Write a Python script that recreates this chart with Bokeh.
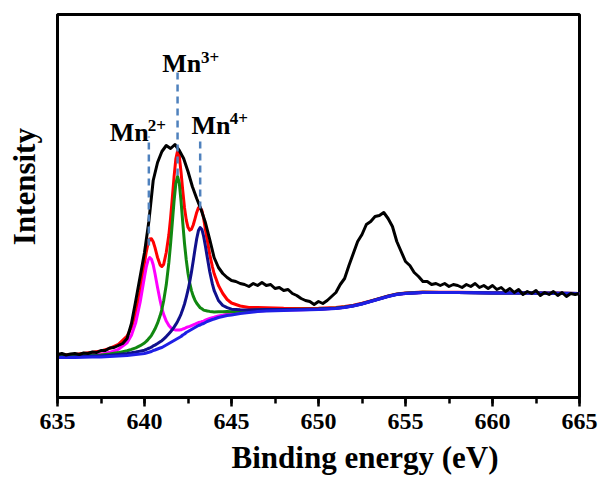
from bokeh.plotting import figure
from bokeh.models import Range1d, SingleIntervalTicker, FixedTicker, Label
from bokeh.embed import file_html
from bokeh.resources import INLINE

# ---------------- data (binding energy in eV, intensity in a.u.) ----------------
BE = [
    635.0, 635.25, 635.5, 635.75, 636.0, 636.25, 636.5, 636.75,
    637.0, 637.25, 637.5, 637.75, 638.0, 638.25, 638.5, 638.75,
    639.0, 639.25, 639.5, 639.75, 640.0, 640.25, 640.5, 640.75,
    641.0, 641.25, 641.5, 641.75, 642.0, 642.25, 642.5, 642.75,
    643.0, 643.25, 643.5, 643.75, 644.0, 644.25, 644.5, 644.75,
    645.0, 645.25, 645.5, 645.75, 646.0, 646.25, 646.5, 646.75,
    647.0, 647.25, 647.5, 647.75, 648.0, 648.25, 648.5, 648.75,
    649.0, 649.25, 649.5, 649.75, 650.0, 650.25, 650.5, 650.75,
    651.0, 651.25, 651.5, 651.75, 652.0, 652.25, 652.5, 652.75,
    653.0, 653.25, 653.5, 653.75, 654.0, 654.25, 654.5, 654.75,
    655.0, 655.25, 655.5, 655.75, 656.0, 656.25, 656.5, 656.75,
    657.0, 657.25, 657.5, 657.75, 658.0, 658.25, 658.5, 658.75,
    659.0, 659.25, 659.5, 659.75, 660.0, 660.25, 660.5, 660.75,
    661.0, 661.25, 661.5, 661.75, 662.0, 662.25, 662.5, 662.75,
    663.0, 663.25, 663.5, 663.75, 664.0, 664.25, 664.5, 664.75,
    665.0,
]
COUNTS = [
    43, 44, 42.5, 43.5, 44, 43, 44.5, 44,
    45.5, 45, 47, 47, 49.5, 50, 52, 54,
    59, 74, 97, 121, 145, 176, 217, 235,
    246, 252, 249, 253, 247, 239, 226, 211,
    199, 188, 175, 158, 140, 130, 124, 120,
    117, 116, 114, 113, 111, 114, 112, 115,
    112, 113, 109, 110, 107, 108, 104, 102,
    99, 97, 96, 93, 96, 94, 97, 101,
    105, 113, 119, 132, 144, 156, 163, 173,
    176, 181, 182, 185, 179, 171, 156, 146,
    136, 132, 125, 121, 116, 116, 113, 114,
    112, 114, 111, 113, 112, 110, 113, 111,
    114, 110, 112, 109, 112, 108, 110, 106,
    109, 105, 108, 103, 106, 104, 107, 102,
    105, 103, 106, 102, 105, 101, 104, 103,
    104,
]

FIT_BE = [
    635, 636, 637, 637.5, 638, 638.5, 639, 639.25,
    639.5, 639.75, 640, 640.1, 640.2, 640.3, 640.4, 640.5,
    640.6, 640.75, 640.9, 641, 641.1, 641.25, 641.4, 641.5,
    641.6, 641.7, 641.8, 641.9, 642, 642.1, 642.2, 642.3,
    642.4, 642.5, 642.6, 642.7, 642.8, 642.9, 643, 643.1,
    643.2, 643.3, 643.4, 643.5, 643.6, 643.75, 643.9, 644,
    644.25, 644.5, 644.75, 645, 645.5, 646, 646.5, 647,
    648, 649, 650, 651, 651.5, 652, 652.5, 653,
    653.5, 654, 654.5, 655, 655.5, 656, 657, 658,
    660, 662, 665,
]
BACKGROUND = [
    40, 40, 40.5, 40.5, 41, 41.5, 42, 42.5,
    43, 43.5, 44, 44.5, 45, 45.5, 46, 47,
    47.5, 48.5, 49.5, 50, 51, 52.5, 54, 55,
    56, 57, 58, 59, 60, 61, 62.5, 63.5,
    65, 66, 67, 68, 69, 70, 71, 72,
    72.5, 73.5, 74, 75, 76, 77, 78, 78.5,
    80, 81, 82, 82.5, 84, 85, 86, 86.5,
    87, 87.5, 88, 89, 90, 91.5, 93.5, 96,
    98.5, 101, 103, 104, 104.5, 105, 105, 105,
    104.5, 104.5, 104,
]
MN2_FIT = [
    40.8, 41.3, 42.6, 43.4, 45.2, 48.2, 54.7, 62.2,
    75.1, 95.3, 120.8, 130.3, 137.2, 140.0, 138.2, 132.8,
    124.3, 110.0, 96.8, 89.0, 83.1, 76.4, 71.9, 70.0,
    68.7, 67.9, 67.5, 67.4, 67.4, 67.7, 68.5, 69.0,
    70.0, 70.6, 71.2, 71.9, 72.6, 73.3, 74.1, 74.9,
    75.2, 76.0, 76.4, 77.3, 78.1, 79.0, 79.8, 80.2,
    81.5, 82.3, 83.2, 83.6, 84.9, 85.7, 86.6, 87.0,
    87.4, 87.8, 88.3, 89.2, 90.2, 91.7, 93.7, 96.2,
    98.6, 101.1, 103.1, 104.1, 104.6, 105.1, 105.1, 105.1,
    104.6, 104.5, 104.0,
]
MN3_FIT = [
    40.9, 41.2, 42.2, 42.6, 43.6, 44.9, 46.7, 48.1,
    49.7, 51.8, 54.5, 56.1, 57.9, 59.9, 62.2, 65.3,
    68.4, 74.3, 81.9, 88.2, 96.5, 112.7, 135.0, 153.8,
    175.1, 196.7, 213.8, 221.0, 214.4, 196.3, 174.7, 154.0,
    137.5, 124.3, 114.4, 106.9, 101.4, 97.3, 94.2, 92.0,
    89.8, 88.7, 87.4, 86.9, 86.6, 86.1, 85.8, 85.6,
    85.7, 85.7, 85.9, 85.8, 86.5, 86.9, 87.5, 87.8,
    87.9, 88.2, 88.5, 89.4, 90.4, 91.8, 93.8, 96.3,
    98.7, 101.2, 103.2, 104.2, 104.7, 105.2, 105.1, 105.1,
    104.6, 104.6, 104.1,
]
MN4_FIT = [
    40.5, 40.7, 41.4, 41.6, 42.3, 43.1, 44.0, 44.7,
    45.5, 46.4, 47.3, 48.0, 48.8, 49.5, 50.3, 51.6,
    52.4, 54.0, 55.7, 56.8, 58.4, 60.9, 63.8, 65.8,
    68.0, 70.4, 73.1, 76.1, 79.5, 83.4, 88.3, 93.5,
    100.1, 107.3, 115.8, 125.5, 136.5, 148.0, 158.8, 166.9,
    170.0, 168.1, 161.0, 151.4, 140.9, 125.8, 113.6, 107.1,
    97.0, 92.0, 89.8, 88.3, 87.7, 87.5, 87.8, 87.9,
    87.9, 88.1, 88.4, 89.3, 90.3, 91.8, 93.7, 96.2,
    98.7, 101.2, 103.2, 104.2, 104.6, 105.1, 105.1, 105.1,
    104.6, 104.6, 104.0,
]
ENVELOPE = [
    42.2, 43.1, 45.2, 46.5, 49.1, 53.2, 61.3, 70.0,
    84.3, 106.5, 134.6, 145.4, 153.9, 158.4, 158.7, 155.7,
    150.1, 140.0, 132.5, 131.0, 133.0, 145.0, 162.7, 179.6,
    199.8, 221.0, 238.4, 246.5, 241.3, 225.4, 206.5, 189.5,
    177.6, 170.2, 167.4, 168.3, 172.5, 178.6, 185.1, 189.8,
    190.0, 187.0, 179.0, 168.0, 158.0, 143.0, 131.0, 124.0,
    112.0, 104.0, 98.0, 94.5, 91.5, 90.1, 90.0, 89.7,
    89.2, 89.1, 89.2, 89.9, 90.9, 92.3, 94.2, 96.6,
    99.1, 101.5, 103.5, 104.5, 104.9, 105.4, 105.3, 105.3,
    104.7, 104.7, 104.1,
]

PEAK_BE = [640.25, 641.9, 643.2]
PEAK_LABELS = ["2+", "3+", "4+"]
X_TITLE = "Binding energy (eV)"
Y_TITLE = "Intensity"

# ---------------- layout / style ----------------
FONT = "Liberation Serif"
DASH_TOP = [261, 327, 257]
DASH_BOTTOM = [152, 222, 189]
MN_POS = [(638.0, 265.3), (641.02, 333.7), (642.7, 272.0)]
SUP_POS = [(640.18, 272.0), (643.25, 340.3), (644.9, 278.7)]
NBSP = "\u00a0"

p = figure(width=600, height=481,
           x_range=Range1d(635, 665), y_range=Range1d(0, 383),
           output_backend="svg", toolbar_location=None,
           min_border_left=57, min_border_right=21,
           min_border_top=14, min_border_bottom=84)
p.background_fill_color = "white"
p.border_fill_color = "white"
p.xgrid.visible = False
p.ygrid.visible = False
p.outline_line_color = "black"
p.outline_line_width = 3
p.outline_line_alpha = 1.0

ax = p.xaxis[0]
ax.ticker = SingleIntervalTicker(interval=5, num_minor_ticks=2)
ax.axis_line_width = 3
ax.major_tick_line_width = 2.5
ax.minor_tick_line_width = 2.5
ax.major_tick_in = 0
ax.major_tick_out = 9
ax.minor_tick_in = 0
ax.minor_tick_out = 6
ax.major_label_standoff = 7
ax.major_label_text_font = FONT
ax.major_label_text_font_style = "bold"
ax.major_label_text_font_size = "24px"
ax.major_label_text_color = "black"
ax.axis_label = NBSP * 12 + X_TITLE
ax.axis_label_standoff = 8
ax.axis_label_text_font = FONT
ax.axis_label_text_font_style = "bold"
ax.axis_label_text_font_size = "31px"
ax.axis_label_text_color = "black"

ay = p.yaxis[0]
ay.ticker = FixedTicker(ticks=[])
ay.axis_line_width = 3
ay.major_tick_in = 0
ay.major_tick_out = 0
ay.minor_tick_in = 0
ay.minor_tick_out = 0
ay.major_label_standoff = 0
ay.axis_label = NBSP * 5 + Y_TITLE
ay.axis_label_standoff = 16
ay.axis_label_text_font = FONT
ay.axis_label_text_font_style = "bold"
ay.axis_label_text_font_size = "31px"
ay.axis_label_text_color = "black"

LW = 3
p.line(FIT_BE, ENVELOPE, line_color="#ff0000", line_width=LW, line_join="round")
p.line(FIT_BE, MN2_FIT, line_color="#ff00ff", line_width=LW, line_join="round")
p.line(FIT_BE, MN3_FIT, line_color="#118811", line_width=LW, line_join="round")
p.line(FIT_BE, MN4_FIT, line_color="#10108c", line_width=LW, line_join="round")
p.line(FIT_BE, BACKGROUND, line_color="#1f1fe6", line_width=LW, line_join="round")
p.line(BE, COUNTS, line_color="black", line_width=LW, line_join="round")

p.segment(x0=PEAK_BE, y0=DASH_BOTTOM, x1=PEAK_BE, y1=DASH_TOP,
          line_color="#4f81bd", line_width=2.5, line_dash="7 5")

for (mx, my), (sx, sy), sup in zip(MN_POS, SUP_POS, PEAK_LABELS):
    p.add_layout(Label(x=mx, y=my, text="Mn", text_font=FONT, text_font_style="bold",
                       text_font_size="26px", text_color="black",
                       text_baseline="alphabetic", text_align="left"))
    p.add_layout(Label(x=sx, y=sy, text=sup, text_font=FONT, text_font_style="bold",
                       text_font_size="17px", text_color="black",
                       text_baseline="alphabetic", text_align="left"))

open("out.html", "w").write(file_html(p, INLINE))
